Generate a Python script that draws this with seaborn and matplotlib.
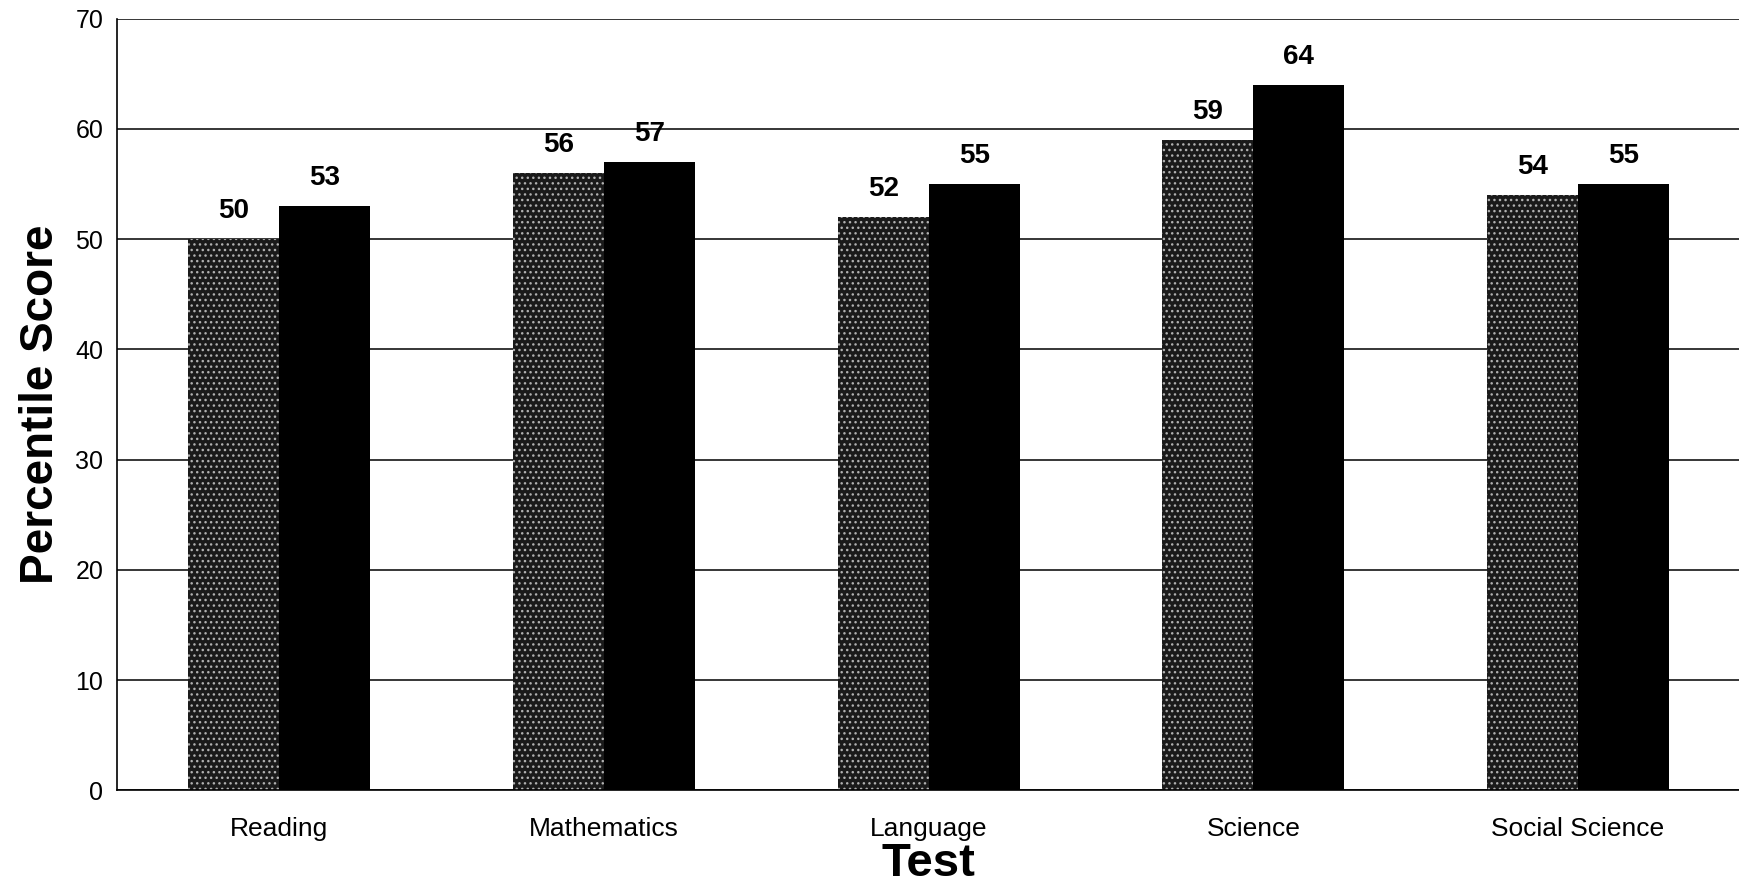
import seaborn as sns
import matplotlib.pyplot as plt
import pandas as pd

# -----------------------
# Data
# -----------------------
tests = ["Reading", "Mathematics", "Language", "Science", "Social Science"]
series_names = ["Series 1", "Series 2"]
scores_1 = [50, 56, 52, 59, 54]
scores_2 = [53, 57, 55, 64, 55]
y_ticks = [0, 10, 20, 30, 40, 50, 60, 70]

df = pd.DataFrame({
    "Test": tests * 2,
    "Group": [series_names[0]] * len(tests) + [series_names[1]] * len(tests),
    "Score": scores_1 + scores_2,
})

# -----------------------
# Plot
# -----------------------
sns.set_style("white")
plt.rcParams["font.family"] = ["Liberation Sans", "DejaVu Sans"]
plt.rcParams["hatch.linewidth"] = 1.0
for key in ["text.color", "axes.labelcolor", "xtick.color", "ytick.color"]:
    plt.rcParams[key] = "black"

fig = plt.figure(figsize=(17.39, 8.91), dpi=100)
ax = fig.add_axes([0.0673, 0.113, 0.9335, 0.866])

sns.barplot(
    data=df, x="Test", y="Score", hue="Group",
    palette=["#1a1a1a", "#000000"], width=0.56, gap=0,
    saturation=1, legend=False, linewidth=0, edgecolor="black", ax=ax,
)

# stipple the first series
for bar in ax.containers[0]:
    bar.set_hatch("...")
    bar.set_edgecolor("#b0b0b0")
    bar.set_linewidth(0)

for cont in ax.containers:
    ax.bar_label(cont, fmt="%d", padding=11, fontsize=20, fontweight="bold")

ax.set_ylim(0, 70)
ax.set_yticks(y_ticks)
ax.set_xlim(-0.5, len(tests) - 0.5)
ax.yaxis.grid(True, color="black", linewidth=1.1)
ax.set_axisbelow(True)

# category boundary ticks on the x axis
ax.set_xticks([i - 0.5 for i in range(len(tests) + 1)], minor=True)
ax.tick_params(axis="x", which="minor", length=9, width=1.2, color="black", direction="out")
ax.tick_params(axis="x", which="major", length=0, pad=19, labelsize=19)
ax.tick_params(axis="y", length=6, width=1, color="black", direction="out", pad=4, labelsize=18)

for side in ["left", "bottom"]:
    ax.spines[side].set_color("black")
    ax.spines[side].set_linewidth(1.2)
ax.spines["right"].set_visible(False)
ax.spines["top"].set_visible(False)

ax.set_xlabel("Test", fontsize=34, fontweight="bold", labelpad=1)
ax.set_ylabel("Percentile Score", fontsize=33, fontweight="bold", labelpad=9)

plt.savefig("out.png", dpi=100)
